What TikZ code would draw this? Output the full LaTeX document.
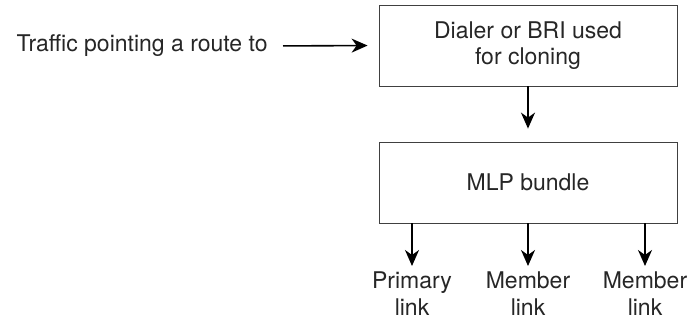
\documentclass[tikz,border=0pt]{standalone}
\usepackage{fontspec}
\setmainfont{TeX Gyre Heros}
\usetikzlibrary{arrows.meta}
\usetikzlibrary{calc}

\begin{document}
\begin{tikzpicture} [x=.5pt, y=-.5pt,
  box/.style={draw=black!75, thin, minimum width=149pt, minimum height=40.5pt, align=center, inner sep=0pt, font=\fontsize{11.5}{13}\selectfont},
  lbl/.style={align=center, inner sep=0pt, anchor=north, font=\fontsize{11.5}{13.5}\selectfont},
  every node/.style={font=\fontsize{11.5}{13}\selectfont, text=black!85},
  flow/.style={black, thick, -{Stealth[length=8pt, width=7pt, inset=2.5pt]}}]
\useasboundingbox (0,0) rectangle (691,320);
\node[box] (dialer) at (528,45.5) {Dialer or BRI used\\for cloning};
\node[box] (mlp) at (528,182.5) {MLP bundle};
\node[anchor=east, inner sep=0pt] (traffic) at (268,46) {Traffic pointing a route to};
\draw[flow, shorten <=7.5pt, shorten >=5.5pt] (traffic.east)--(dialer.west);
\draw[flow, shorten >=6.5pt] (dialer.south)--(mlp.north);
\node[lbl] (primary) at (412,271) {Primary\\link};
\node[lbl] (member1) at (528,271) {Member\\link};
\node[lbl] (member2) at (645,271) {Member\\link};
\foreach \n in {primary,member1,member2} {
 \draw[flow, shorten >=2.5pt] (mlp.south -| \n.north)--(\n.north);
}
\end{tikzpicture}
\end{document}
